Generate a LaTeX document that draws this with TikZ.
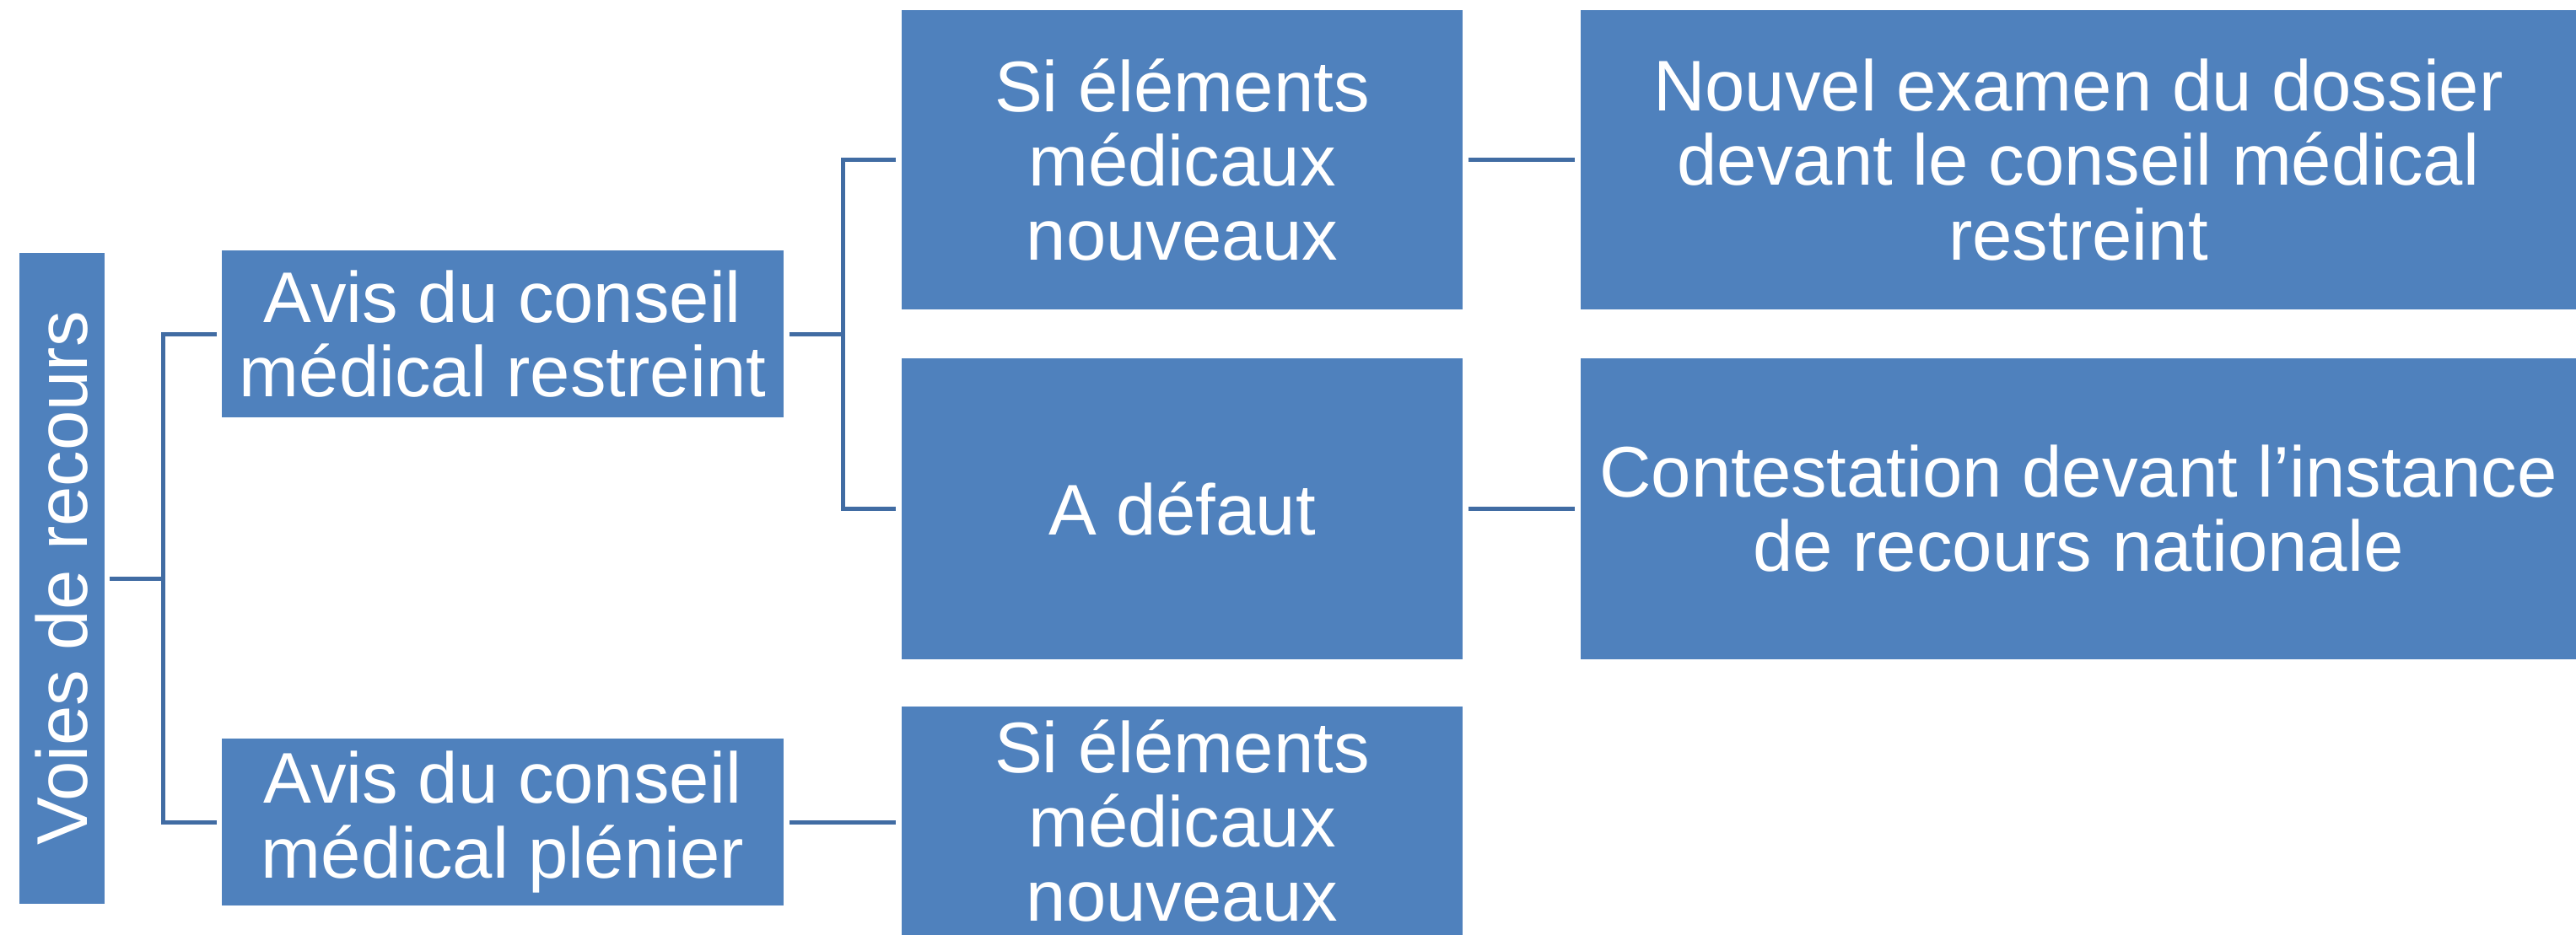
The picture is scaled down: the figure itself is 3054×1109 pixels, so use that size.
\documentclass[tikz,border=0pt]{standalone}
\usepackage{fontspec}
\setmainfont{Liberation Sans}
\definecolor{boxblue}{HTML}{4F81BD}
\definecolor{lineblue}{HTML}{416CA3}
\tikzset{
  box/.style={fill=boxblue, draw=none, inner sep=0pt, text=white, align=center,
    font=\fontsize{24.2}{25.05}\selectfont},
  tbox/.style={box, execute at end node={\vspace{0.08cm}}},
  conn/.style={draw=lineblue, line width=0.05cm},
}
\begin{document}
\begin{tikzpicture}[x=0.01cm,y=-0.01cm]
\useasboundingbox (0,0) rectangle (3054,1109);
\begin{scope}
\clip (0,0) rectangle (3054,1109);
\node[box, rotate=90, minimum width=7.72cm, minimum height=1.01cm] (voies) at (73.5,686) {Voies de recours};
\node[tbox, minimum width=6.66cm, minimum height=1.98cm] (restreint) at (596,396) {Avis du conseil\\médical restreint};
\node[tbox, minimum width=6.66cm, minimum height=1.98cm] (plenier) at (596,975) {Avis du conseil\\médical plénier};
\node[tbox, minimum width=6.65cm, minimum height=3.55cm] (si1) at (1401.5,189.5) {Si éléments\\médicaux\\nouveaux};
\node[tbox, minimum width=6.65cm, minimum height=3.57cm] (defaut) at (1401.5,603.5) {A défaut};
\node[tbox, minimum width=6.65cm, minimum height=2.71cm] (si2) at (1401.5,973.5) {Si éléments\\médicaux\\nouveaux};
\node[tbox, minimum width=11.8cm, minimum height=3.55cm] (nouvel) at (2464,189.5) {Nouvel examen du dossier\\devant le conseil médical\\restreint};
\node[tbox, minimum width=11.8cm, minimum height=3.57cm] (contest) at (2464,603.5) {Contestation devant l’instance\\de recours nationale};
\end{scope}
\coordinate (j1) at (193,686);
\coordinate (j2) at (999,396);
\draw[conn] ([xshift=0.05cm]voies.south) -- (j1);
\draw[conn] ([xshift=-0.05cm]restreint.west) -| (j1) |- ([xshift=-0.05cm]plenier.west);
\draw[conn] ([xshift=0.06cm]restreint.east) -- (j2);
\draw[conn] ([xshift=-0.06cm]si1.west) -| (j2) |- ([xshift=-0.06cm]defaut.west);
\draw[conn] ([xshift=0.06cm]plenier.east) -- ([xshift=-0.06cm]plenier.east -| si2.west);
\draw[conn] ([xshift=0.06cm]si1.east) -- ([xshift=-0.06cm]nouvel.west);
\draw[conn] ([xshift=0.06cm]defaut.east) -- ([xshift=-0.06cm]contest.west);
\end{tikzpicture}
\end{document}
